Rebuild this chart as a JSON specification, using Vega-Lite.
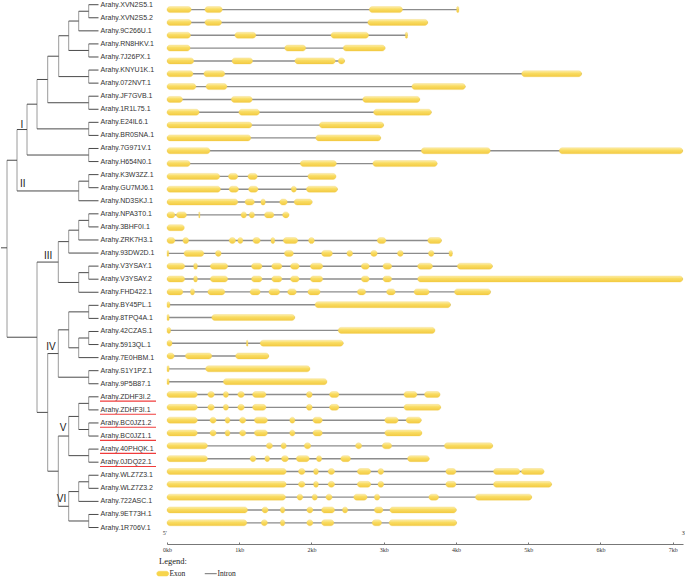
{
  "$schema": "https://vega.github.io/schema/vega-lite/v6.json",
  "padding": 0,
  "spacing": 0,
  "config": {"view": {"stroke": null}, "concat": {"spacing": 0}},
  "datasets": {
    "genes": [
      {"row":0,"gene":"Arahy.XVN2S5.1","px":87.7,"start":0,"end":4.04,"hl":0},
      {"row":1,"gene":"Arahy.XVN2S5.2","px":87.7,"start":0,"end":3.61,"hl":0},
      {"row":2,"gene":"Arahy.9C266U.1","px":77.7,"start":0,"end":3.33,"hl":0},
      {"row":3,"gene":"Arahy.RN8HKV.1","px":87.7,"start":0,"end":3.02,"hl":0},
      {"row":4,"gene":"Arahy.7J26PX.1","px":87.7,"start":0,"end":2.46,"hl":0},
      {"row":5,"gene":"Arahy.KNYU1K.1","px":87.7,"start":0,"end":5.74,"hl":0},
      {"row":6,"gene":"Arahy.072NVT.1","px":87.7,"start":0,"end":4.13,"hl":0},
      {"row":7,"gene":"Arahy.JF7GVB.1","px":87.7,"start":0,"end":3.50,"hl":0},
      {"row":8,"gene":"Arahy.1R1L75.1","px":87.7,"start":0,"end":3.66,"hl":0},
      {"row":9,"gene":"Arahy.E24IL6.1","px":87.7,"start":0,"end":3.00,"hl":0},
      {"row":10,"gene":"Arahy.BR0SNA.1","px":87.7,"start":0,"end":2.96,"hl":0},
      {"row":11,"gene":"Arahy.7G971V.1","px":87.7,"start":0,"end":7.14,"hl":0},
      {"row":12,"gene":"Arahy.H654N0.1","px":87.7,"start":0,"end":3.74,"hl":0},
      {"row":13,"gene":"Arahy.K3W3ZZ.1","px":87.7,"start":0,"end":2.34,"hl":0},
      {"row":14,"gene":"Arahy.GU7MJ6.1","px":87.7,"start":0,"end":2.36,"hl":0},
      {"row":15,"gene":"Arahy.ND3SKJ.1","px":77.7,"start":0,"end":2.01,"hl":0},
      {"row":16,"gene":"Arahy.NPA3T0.1","px":87.7,"start":0,"end":1.69,"hl":0},
      {"row":17,"gene":"Arahy.3BHF0I.1","px":87.7,"start":0,"end":0.2,"hl":0},
      {"row":18,"gene":"Arahy.ZRK7H3.1","px":77.7,"start":0,"end":3.80,"hl":0},
      {"row":19,"gene":"Arahy.93DW2D.1","px":67.7,"start":0,"end":3.95,"hl":0},
      {"row":20,"gene":"Arahy.V3YSAY.1","px":87.7,"start":0,"end":4.505,"hl":0},
      {"row":21,"gene":"Arahy.V3YSAY.2","px":87.7,"start":0,"end":7.14,"hl":0},
      {"row":22,"gene":"Arahy.FHD422.1","px":77.7,"start":0,"end":4.48,"hl":0},
      {"row":23,"gene":"Arahy.BY45PL.1","px":87.7,"start":0,"end":3.925,"hl":0},
      {"row":24,"gene":"Arahy.8TPQ4A.1","px":87.7,"start":0,"end":1.77,"hl":0},
      {"row":25,"gene":"Arahy.42CZAS.1","px":87.7,"start":0,"end":3.71,"hl":0},
      {"row":26,"gene":"Arahy.5913QL.1","px":87.7,"start":0,"end":2.44,"hl":0},
      {"row":27,"gene":"Arahy.7E0HBM.1","px":77.7,"start":0,"end":1.41,"hl":0},
      {"row":28,"gene":"Arahy.S1Y1PZ.1","px":87.7,"start":0,"end":1.98,"hl":0},
      {"row":29,"gene":"Arahy.9P5B87.1","px":87.7,"start":0,"end":2.215,"hl":0},
      {"row":30,"gene":"Arahy.ZDHF3I.2","px":87.7,"start":0,"end":3.78,"hl":1},
      {"row":31,"gene":"Arahy.ZDHF3I.1","px":87.7,"start":0,"end":3.79,"hl":1},
      {"row":32,"gene":"Arahy.BC0JZ1.2","px":87.7,"start":0,"end":3.52,"hl":1},
      {"row":33,"gene":"Arahy.BC0JZ1.1","px":87.7,"start":0,"end":3.53,"hl":1},
      {"row":34,"gene":"Arahy.40PHQK.1","px":87.7,"start":0,"end":4.51,"hl":1},
      {"row":35,"gene":"Arahy.0JDQ22.1","px":87.7,"start":0,"end":3.63,"hl":1},
      {"row":36,"gene":"Arahy.WLZ7Z3.1","px":87.7,"start":0,"end":5.22,"hl":0},
      {"row":37,"gene":"Arahy.WLZ7Z3.2","px":87.7,"start":0,"end":5.325,"hl":0},
      {"row":38,"gene":"Arahy.722ASC.1","px":77.7,"start":0,"end":5.05,"hl":0},
      {"row":39,"gene":"Arahy.9ET73H.1","px":87.7,"start":0,"end":4.005,"hl":0},
      {"row":40,"gene":"Arahy.1R706V.1","px":87.7,"start":0,"end":4.01,"hl":0}
    ],
    "exons": [
      {"row":0,"s":0,"e":0.335},{"row":0,"s":0.525,"e":0.765},{"row":0,"s":2.80,"e":3.26},{"row":0,"s":4.01,"e":4.04},
      {"row":1,"s":0,"e":0.335},{"row":1,"s":0.525,"e":0.755},{"row":1,"s":2.78,"e":3.61},
      {"row":2,"s":0,"e":0.325},{"row":2,"s":0.94,"e":1.23},{"row":2,"s":2.27,"e":2.79},{"row":2,"s":3.30,"e":3.33},
      {"row":3,"s":0,"e":0.32},{"row":3,"s":1.63,"e":1.92},{"row":3,"s":2.44,"e":3.02},
      {"row":4,"s":0,"e":0.37},{"row":4,"s":0.90,"e":1.185},{"row":4,"s":1.77,"e":2.33},{"row":4,"s":2.37,"e":2.46},
      {"row":5,"s":0,"e":0.36},{"row":5,"s":0.51,"e":0.80},{"row":5,"s":4.91,"e":5.74},
      {"row":6,"s":0,"e":0.40},{"row":6,"s":0.54,"e":0.83},{"row":6,"s":3.39,"e":4.13},
      {"row":7,"s":0,"e":0.215},{"row":7,"s":0.89,"e":1.18},{"row":7,"s":2.71,"e":3.50},
      {"row":8,"s":0,"e":0.445},{"row":8,"s":0.995,"e":1.28},{"row":8,"s":2.86,"e":3.66},
      {"row":9,"s":0,"e":1.175},{"row":9,"s":2.11,"e":3.00},
      {"row":10,"s":0,"e":1.16},{"row":10,"s":2.06,"e":2.96},
      {"row":11,"s":0,"e":0.595},{"row":11,"s":3.52,"e":4.475},{"row":11,"s":5.43,"e":7.14},
      {"row":12,"s":0,"e":0.32},{"row":12,"s":1.845,"e":2.345},{"row":12,"s":2.85,"e":3.74},
      {"row":13,"s":0,"e":0.73},{"row":13,"s":0.85,"e":0.98},{"row":13,"s":1.12,"e":1.25},{"row":13,"s":1.95,"e":2.34},
      {"row":14,"s":0,"e":0.74},{"row":14,"s":0.86,"e":0.99},{"row":14,"s":1.13,"e":1.26},{"row":14,"s":1.72,"e":1.79},{"row":14,"s":1.93,"e":2.36},
      {"row":15,"s":0,"e":0.98},{"row":15,"s":1.08,"e":1.21},{"row":15,"s":1.30,"e":1.36},{"row":15,"s":1.56,"e":1.665},{"row":15,"s":1.76,"e":2.01},
      {"row":16,"s":0,"e":0.11},{"row":16,"s":0.13,"e":0.27},{"row":16,"s":0.44,"e":0.455},{"row":16,"s":1.025,"e":1.10},{"row":16,"s":1.14,"e":1.21},{"row":16,"s":1.35,"e":1.48},{"row":16,"s":1.60,"e":1.69},
      {"row":17,"s":0,"e":0.24},
      {"row":18,"s":0,"e":0.11},{"row":18,"s":0.22,"e":0.30},{"row":18,"s":0.86,"e":0.95},{"row":18,"s":0.98,"e":1.05},{"row":18,"s":1.19,"e":1.29},{"row":18,"s":1.44,"e":1.49},{"row":18,"s":1.61,"e":1.81},{"row":18,"s":1.96,"e":2.04},{"row":18,"s":2.91,"e":3.03},{"row":18,"s":3.61,"e":3.80},
      {"row":19,"s":0,"e":0.025},{"row":19,"s":0.235,"e":0.51},{"row":19,"s":0.67,"e":0.75},{"row":19,"s":1.625,"e":1.75},{"row":19,"s":2.14,"e":2.29},{"row":19,"s":2.49,"e":2.57},{"row":19,"s":2.82,"e":2.91},{"row":19,"s":3.19,"e":3.27},{"row":19,"s":3.62,"e":3.695},{"row":19,"s":3.905,"e":3.95},
      {"row":20,"s":0,"e":0.245},{"row":20,"s":0.37,"e":0.42},{"row":20,"s":0.60,"e":0.84},{"row":20,"s":1.17,"e":1.315},{"row":20,"s":1.45,"e":1.59},{"row":20,"s":1.71,"e":1.83},{"row":20,"s":1.985,"e":2.155},{"row":20,"s":2.69,"e":2.80},{"row":20,"s":2.99,"e":3.11},{"row":20,"s":3.47,"e":3.675},{"row":20,"s":4.02,"e":4.505},
      {"row":21,"s":0,"e":0.245},{"row":21,"s":0.37,"e":0.42},{"row":21,"s":0.60,"e":0.84},{"row":21,"s":1.17,"e":1.315},{"row":21,"s":1.45,"e":1.59},{"row":21,"s":1.71,"e":1.83},{"row":21,"s":1.985,"e":2.155},{"row":21,"s":2.69,"e":2.80},{"row":21,"s":2.99,"e":3.11},{"row":21,"s":3.47,"e":7.14},
      {"row":22,"s":0,"e":0.22},{"row":22,"s":0.325,"e":0.38},{"row":22,"s":0.565,"e":0.80},{"row":22,"s":1.15,"e":1.29},{"row":22,"s":1.41,"e":1.56},{"row":22,"s":1.67,"e":1.79},{"row":22,"s":1.95,"e":2.12},{"row":22,"s":2.635,"e":2.75},{"row":22,"s":3.04,"e":3.16},{"row":22,"s":3.42,"e":3.63},{"row":22,"s":3.98,"e":4.48},
      {"row":23,"s":0,"e":0.04},{"row":23,"s":2.05,"e":3.925},
      {"row":24,"s":0,"e":0.03},{"row":24,"s":0.62,"e":1.77},
      {"row":25,"s":0,"e":0.05},{"row":25,"s":2.37,"e":3.71},
      {"row":26,"s":0,"e":0.07},{"row":26,"s":1.10,"e":1.12},{"row":26,"s":1.29,"e":2.44},
      {"row":27,"s":0,"e":0.10},{"row":27,"s":0.255,"e":0.62},{"row":27,"s":0.95,"e":1.41},
      {"row":28,"s":0,"e":0.03},{"row":28,"s":0.535,"e":1.98},
      {"row":29,"s":0,"e":0.03},{"row":29,"s":0.78,"e":2.215},
      {"row":30,"s":0,"e":0.42},{"row":30,"s":0.565,"e":0.655},{"row":30,"s":0.78,"e":0.85},{"row":30,"s":0.98,"e":1.07},{"row":30,"s":1.185,"e":1.37},{"row":30,"s":1.93,"e":2.01},{"row":30,"s":2.25,"e":2.38},{"row":30,"s":3.28,"e":3.46},{"row":30,"s":3.565,"e":3.78},
      {"row":31,"s":0,"e":0.42},{"row":31,"s":0.565,"e":0.655},{"row":31,"s":0.78,"e":0.85},{"row":31,"s":0.98,"e":1.07},{"row":31,"s":1.185,"e":1.37},{"row":31,"s":1.93,"e":2.01},{"row":31,"s":2.25,"e":2.38},{"row":31,"s":3.28,"e":3.79},
      {"row":32,"s":0,"e":0.42},{"row":32,"s":0.595,"e":0.68},{"row":32,"s":0.805,"e":0.87},{"row":32,"s":1.005,"e":1.09},{"row":32,"s":1.21,"e":1.39},{"row":32,"s":1.70,"e":1.77},{"row":32,"s":2.02,"e":2.15},{"row":32,"s":3.015,"e":3.20},{"row":32,"s":3.31,"e":3.52},
      {"row":33,"s":0,"e":0.42},{"row":33,"s":0.595,"e":0.68},{"row":33,"s":0.805,"e":0.87},{"row":33,"s":1.005,"e":1.09},{"row":33,"s":1.21,"e":1.39},{"row":33,"s":1.70,"e":1.77},{"row":33,"s":2.02,"e":2.15},{"row":33,"s":3.015,"e":3.53},
      {"row":34,"s":0,"e":0.56},{"row":34,"s":1.375,"e":1.46},{"row":34,"s":1.58,"e":1.65},{"row":34,"s":1.90,"e":1.99},{"row":34,"s":2.61,"e":2.695},{"row":34,"s":2.98,"e":3.11},{"row":34,"s":3.84,"e":4.51},
      {"row":35,"s":0,"e":0.56},{"row":35,"s":1.15,"e":1.23},{"row":35,"s":1.355,"e":1.42},{"row":35,"s":1.585,"e":1.68},{"row":35,"s":1.79,"e":1.97},{"row":35,"s":2.07,"e":2.14},{"row":35,"s":2.405,"e":2.54},{"row":35,"s":3.33,"e":3.63},
      {"row":36,"s":0,"e":1.65},{"row":36,"s":1.82,"e":1.91},{"row":36,"s":2.03,"e":2.095},{"row":36,"s":2.23,"e":2.32},{"row":36,"s":2.635,"e":2.82},{"row":36,"s":2.92,"e":3.00},{"row":36,"s":3.86,"e":4.00},{"row":36,"s":4.52,"e":4.885},{"row":36,"s":4.905,"e":5.22},
      {"row":37,"s":0,"e":1.65},{"row":37,"s":1.82,"e":1.91},{"row":37,"s":2.03,"e":2.095},{"row":37,"s":2.23,"e":2.32},{"row":37,"s":2.635,"e":2.82},{"row":37,"s":2.92,"e":3.00},{"row":37,"s":3.86,"e":4.00},{"row":37,"s":4.52,"e":5.325},
      {"row":38,"s":0,"e":1.64},{"row":38,"s":1.80,"e":1.88},{"row":38,"s":2.01,"e":2.08},{"row":38,"s":2.20,"e":2.285},{"row":38,"s":2.585,"e":2.77},{"row":38,"s":2.87,"e":2.945},{"row":38,"s":3.625,"e":3.76},{"row":38,"s":4.27,"e":5.05},
      {"row":39,"s":0,"e":1.115},{"row":39,"s":1.315,"e":1.40},{"row":39,"s":1.57,"e":1.63},{"row":39,"s":1.935,"e":2.02},{"row":39,"s":2.14,"e":2.32},{"row":39,"s":2.43,"e":2.50},{"row":39,"s":2.87,"e":2.99},{"row":39,"s":3.085,"e":4.005},
      {"row":40,"s":0,"e":1.105},{"row":40,"s":1.305,"e":1.39},{"row":40,"s":1.57,"e":1.63},{"row":40,"s":1.935,"e":2.02},{"row":40,"s":2.14,"e":2.31},{"row":40,"s":2.84,"e":2.97},{"row":40,"s":3.075,"e":4.01}
    ],
    "vseg": [
      {"x":87.7,"y":0,"y2":1},{"x":77.7,"y":0.5,"y2":2},{"x":87.7,"y":3,"y2":4},{"x":67.7,"y":1.25,"y2":3.5},
      {"x":87.7,"y":5,"y2":6},{"x":57.7,"y":2.375,"y2":5.5},{"x":87.7,"y":7,"y2":8},{"x":46.7,"y":3.94,"y2":7.5},
      {"x":87.7,"y":9,"y2":10},{"x":36,"y":5.72,"y2":9.5},{"x":87.7,"y":11,"y2":12},{"x":26,"y":7.61,"y2":11.5},
      {"x":87.7,"y":13,"y2":14},{"x":77.7,"y":13.5,"y2":15},{"x":16,"y":9.55,"y2":14.25},
      {"x":87.7,"y":16,"y2":17},{"x":77.7,"y":16.5,"y2":18},{"x":67.7,"y":17.25,"y2":19},
      {"x":87.7,"y":20,"y2":21},{"x":77.7,"y":20.5,"y2":22},{"x":57.3,"y":18.125,"y2":21.25},
      {"x":87.7,"y":23,"y2":24},{"x":87.7,"y":25,"y2":26},{"x":77.7,"y":25.5,"y2":27},{"x":67.7,"y":23.5,"y2":26.25},
      {"x":87.7,"y":28,"y2":29},{"x":57.3,"y":24.875,"y2":28.5},
      {"x":87.7,"y":30,"y2":31},{"x":87.7,"y":32,"y2":33},{"x":77.7,"y":30.5,"y2":32.5},{"x":87.7,"y":34,"y2":35},{"x":67.7,"y":31.5,"y2":34.5},
      {"x":87.7,"y":36,"y2":37},{"x":77.7,"y":36.5,"y2":38},{"x":87.7,"y":39,"y2":40},{"x":67.7,"y":37.25,"y2":39.5},
      {"x":57.3,"y":33,"y2":38.375},{"x":46.7,"y":26.69,"y2":35.69},{"x":36,"y":19.69,"y2":31.19},{"x":6,"y":11.9,"y2":25.44}
    ],
    "hseg": [
      {"x":77.7,"x2":87.7,"y":0.5},{"x":67.7,"x2":77.7,"y":1.25},{"x":67.7,"x2":87.7,"y":3.5},{"x":57.7,"x2":67.7,"y":2.375},
      {"x":57.7,"x2":87.7,"y":5.5},{"x":46.7,"x2":57.7,"y":3.94},{"x":46.7,"x2":87.7,"y":7.5},{"x":36,"x2":46.7,"y":5.72},
      {"x":36,"x2":87.7,"y":9.5},{"x":26,"x2":36,"y":7.61},{"x":26,"x2":87.7,"y":11.5},{"x":16,"x2":26,"y":9.55},
      {"x":77.7,"x2":87.7,"y":13.5},{"x":16,"x2":77.7,"y":14.25},{"x":6,"x2":16,"y":11.9},
      {"x":77.7,"x2":87.7,"y":16.5},{"x":67.7,"x2":77.7,"y":17.25},{"x":57.3,"x2":67.7,"y":18.125},
      {"x":77.7,"x2":87.7,"y":20.5},{"x":57.3,"x2":77.7,"y":21.25},{"x":36,"x2":57.3,"y":19.69},
      {"x":67.7,"x2":87.7,"y":23.5},{"x":77.7,"x2":87.7,"y":25.5},{"x":67.7,"x2":77.7,"y":26.25},{"x":57.3,"x2":67.7,"y":24.875},
      {"x":57.3,"x2":87.7,"y":28.5},{"x":46.7,"x2":57.3,"y":26.69},
      {"x":77.7,"x2":87.7,"y":30.5},{"x":77.7,"x2":87.7,"y":32.5},{"x":67.7,"x2":77.7,"y":31.5},{"x":67.7,"x2":87.7,"y":34.5},{"x":57.3,"x2":67.7,"y":33},
      {"x":77.7,"x2":87.7,"y":36.5},{"x":67.7,"x2":77.7,"y":37.25},{"x":67.7,"x2":87.7,"y":39.5},{"x":57.3,"x2":67.7,"y":38.375},
      {"x":46.7,"x2":57.3,"y":35.69},{"x":36,"x2":46.7,"y":31.19},{"x":6,"x2":36,"y":25.44},{"x":0,"x2":6,"y":18.6}
    ],
    "clades": [
      {"name":"I","x":20.8,"y":9.2},
      {"name":"II","x":21.7,"y":13.74},
      {"name":"III","x":47.2,"y":19.2},
      {"name":"IV","x":50,"y":26.17},
      {"name":"V","x":62,"y":32.41},
      {"name":"VI","x":60.5,"y":37.84}
    ],
    "ends": [
      {"label":"5'","kb":-0.03,"row":40.8},
      {"label":"3'","kb":7.155,"row":40.8}
    ]
  },
  "hconcat": [
    {
      "width": 161,
      "height": 544,
      "layer": [
        {
          "data": {"name": "vseg"},
          "mark": {"type": "rule", "color": "#9a9a9a", "strokeWidth": 1},
          "encoding": {
            "x": {"field": "x", "type": "quantitative", "scale": {"domain": [0, 161], "nice": false, "zero": false}, "axis": null},
            "y": {"field": "y", "type": "quantitative", "scale": {"domain": [-0.36, 41.26], "reverse": true, "nice": false, "zero": false}, "axis": null},
            "y2": {"field": "y2"}
          }
        },
        {
          "data": {"name": "hseg"},
          "mark": {"type": "rule", "color": "#4a4a4a", "strokeWidth": 1},
          "encoding": {
            "x": {"field": "x", "type": "quantitative"},
            "x2": {"field": "x2"},
            "y": {"field": "y", "type": "quantitative"}
          }
        },
        {
          "data": {"name": "genes"},
          "mark": {"type": "rule", "color": "#4a4a4a", "strokeWidth": 1},
          "encoding": {
            "x": {"field": "px", "type": "quantitative"},
            "x2": {"datum": 97.5},
            "y": {"field": "row", "type": "quantitative"}
          }
        },
        {
          "data": {"name": "genes"},
          "mark": {"type": "text", "align": "left", "baseline": "middle", "font": "Liberation Sans", "fontSize": 7, "fill": "#333333"},
          "encoding": {
            "x": {"datum": 99.5, "type": "quantitative"},
            "y": {"field": "row", "type": "quantitative"},
            "text": {"field": "gene"}
          }
        },
        {
          "data": {"name": "genes"},
          "transform": [{"filter": "datum.hl == 1"}],
          "mark": {"type": "rule", "color": "#f03c3c", "strokeWidth": 1.1, "yOffset": 4.3},
          "encoding": {
            "x": {"datum": 99},
            "x2": {"datum": 155},
            "y": {"field": "row", "type": "quantitative"}
          }
        },
        {
          "data": {"name": "clades"},
          "mark": {"type": "text", "align": "center", "baseline": "middle", "font": "Liberation Sans", "fontSize": 10, "fill": "#1a1a1a"},
          "encoding": {
            "x": {"field": "x", "type": "quantitative"},
            "y": {"field": "y", "type": "quantitative"},
            "text": {"field": "name"}
          }
        }
      ]
    },
    {
      "width": 516,
      "height": 544,
      "layer": [
        {
          "data": {"name": "genes"},
          "mark": {"type": "rule", "strokeWidth": 1.4},
          "encoding": {
            "x": {"field": "start", "type": "quantitative", "scale": {"domain": [0, 7.143], "nice": false, "zero": false},
              "axis": {"values": [0,1,2,3,4,5,6,7], "labelExpr": "datum.value + 'kb'", "title": null, "grid": false, "tickSize": -2, "labelPadding": 4, "labelFont": "Liberation Serif", "labelFontSize": 6, "labelColor": "#333333", "domainColor": "#777777", "tickColor": "#777777", "domainWidth": 1.2, "labelFlush": false}},
            "x2": {"field": "end"},
            "y": {"field": "row", "type": "quantitative", "scale": {"domain": [-0.36, 41.26], "reverse": true, "nice": false, "zero": false}, "axis": null},
            "color": {"datum": "Intron", "type": "nominal",
              "scale": {"domain": ["Exon", "Intron"], "range": ["#f7d54c", "#8c8c8c"]},
              "legend": {
                "title": "Legend:", "orient": "none", "legendX": 158, "legendY": 557, "direction": "horizontal",
                "titleFont": "Liberation Serif", "titleFontSize": 8.5, "titleFontWeight": "normal", "titleColor": "#222222", "titlePadding": 4,
                "labelFont": "Liberation Serif", "labelFontSize": 7.5, "labelColor": "#222222", "labelOffset": 3,
                "symbolSize": 144, "columnPadding": 16,
                "encode": {
                  "labels": {"update": {"fill": {"value": "#222222"}}},
                  "symbols": {"update": {
                    "shape": {"signal": "datum.value === 'Exon' ? 'M-0.6,-0.4L0.6,-0.4A0.4,0.4 0 0 1 0.6,0.4L-0.6,0.4A0.4,0.4 0 0 1 -0.6,-0.4Z' : 'stroke'"},
                    "fill": {"signal": "datum.value === 'Exon' ? '#f7d54c' : 'transparent'"},
                    "stroke": {"signal": "datum.value === 'Exon' ? '#f0c63a' : '#666666'"},
                    "strokeWidth": {"signal": "datum.value === 'Exon' ? 0.5 : 1.2"}
                  }}
                }
              }
            }
          }
        },
        {
          "data": {"name": "exons"},
          "mark": {"type": "bar", "orient": "horizontal", "size": 6, "cornerRadius": 3, "stroke": "#f1cd4a", "strokeWidth": 0.3,
            "color": {"gradient": "linear", "x1": 0, "y1": 0, "x2": 0, "y2": 1,
              "stops": [{"offset": 0, "color": "#fdefb0"}, {"offset": 0.4, "color": "#f9dc62"}, {"offset": 1, "color": "#f3ca42"}]}},
          "encoding": {
            "x": {"field": "s", "type": "quantitative"},
            "x2": {"field": "e"},
            "y": {"field": "row", "type": "quantitative"}
          }
        },
        {
          "data": {"name": "ends"},
          "mark": {"type": "text", "align": "center", "baseline": "middle", "font": "Liberation Serif", "fontSize": 6, "fill": "#333333"},
          "encoding": {
            "x": {"field": "kb", "type": "quantitative"},
            "y": {"field": "row", "type": "quantitative"},
            "text": {"field": "label"}
          }
        }
      ]
    }
  ]
}
